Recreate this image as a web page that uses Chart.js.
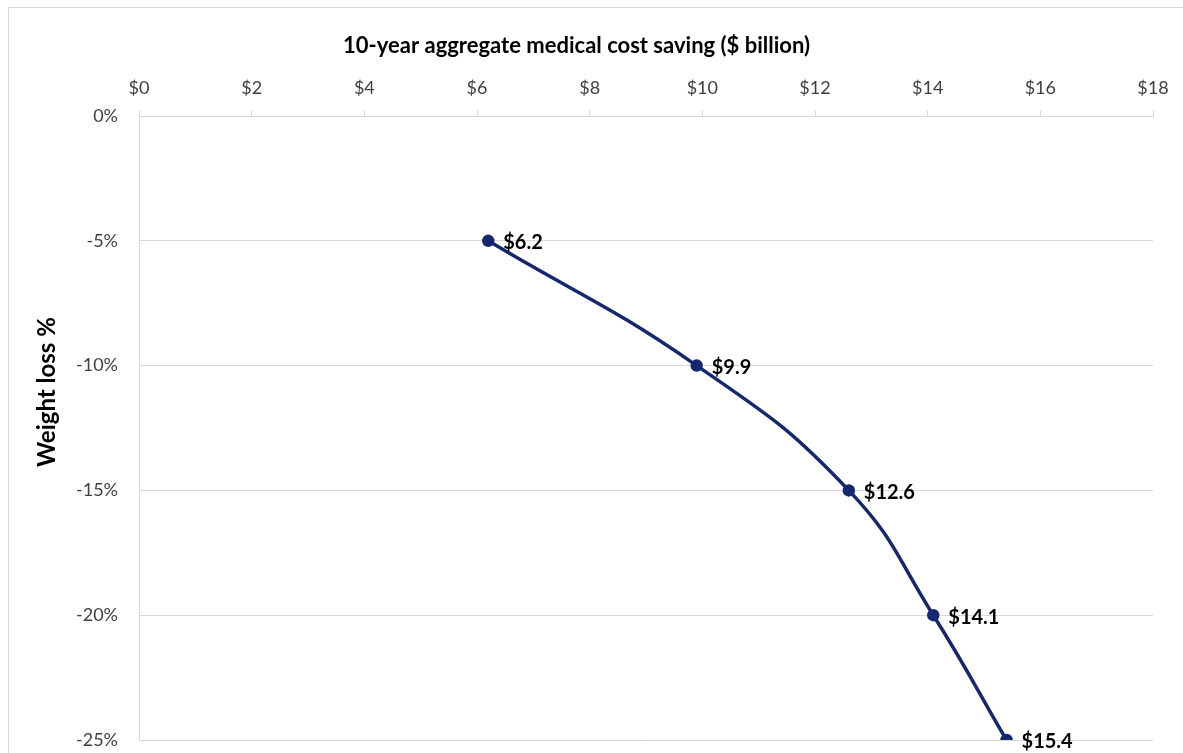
<!DOCTYPE html>
<html>
<head>
<meta charset="utf-8">
<script src="https://cdn.jsdelivr.net/npm/chart.js@4.4.1/dist/chart.umd.min.js"></script>
<style>
  html, body { margin: 0; padding: 0; background: #fff; overflow: hidden; }
  #frame { position: absolute; left: 8px; top: 7px; width: 1200px; height: 800px; border: 1px solid #d9d9d9; box-sizing: border-box; }
  #wrap { position: absolute; left: 0; top: 0; width: 1183px; height: 753px; overflow: hidden; }
  canvas { display: block; }
</style>
</head>
<body>
<div id="frame"></div>
<div id="wrap"><canvas id="c" width="1183" height="784" style="width:1183px;height:784px"></canvas></div>
<script>
const savings = [6.2, 9.9, 12.6, 14.1, 15.4];
const weightLoss = [-5, -10, -15, -20, -25];
const savingLabels = ["$6.2", "$9.9", "$12.6", "$14.1", "$15.4"];
const xTitle = "10-year aggregate medical cost saving ($ billion)";
const yTitle = "Weight loss %";

const FONT = "Lato, 'Open Sans', sans-serif";

const labelPlugin = {
  id: 'pointLabels',
  afterDatasetsDraw(chart) {
    const ctx = chart.ctx;
    const meta = chart.getDatasetMeta(0);
    ctx.save();
    ctx.font = "bold 20px " + FONT;
    ctx.fillStyle = "#000";
    ctx.textAlign = "left";
    ctx.textBaseline = "middle";
    meta.data.forEach((pt, i) => {
      ctx.fillText(savingLabels[i], pt.x + 15, pt.y + 2);
    });
    ctx.restore();
  }
};

const yTitlePlugin = {
  id: 'yTitle',
  afterDraw(chart) {
    const ctx = chart.ctx;
    ctx.save();
    ctx.font = "bold 24px " + FONT;
    ctx.fillStyle = "#000";
    ctx.textAlign = "center";
    ctx.textBaseline = "middle";
    ctx.translate(chart.chartArea.left - 92, chart.height / 2);
    ctx.rotate(-Math.PI / 2);
    ctx.fillText(yTitle, 0, 0);
    ctx.restore();
  }
};

new Chart(document.getElementById('c'), {
  type: 'line',
  data: {
    datasets: [{
      data: savings.map((v, i) => ({ x: v, y: weightLoss[i] })),
      borderColor: '#15286F',
      backgroundColor: '#15286F',
      borderWidth: 3.5,
      pointRadius: 4.5,
      pointHoverRadius: 4.5,
      tension: 0.45,
      fill: false
    }]
  },
  options: {
    responsive: false,
    animation: false,
    layout: { padding: { left: 0, top: 0, right: 30, bottom: 44 } },
    plugins: {
      legend: { display: false },
      tooltip: { enabled: false },
      title: { display: true, text: xTitle, color: '#000', font: { family: FONT, size: 22, weight: 'bold', lineHeight: 1.2 },
               padding: { top: 33, bottom: 0 } }
    },
    scales: {
      x: {
        type: 'linear',
        position: 'top',
        min: 0, max: 18,
        ticks: { stepSize: 2, padding: 11, color: '#404040', font: { family: FONT, size: 18 },
                 callback: v => '$' + v },
        grid: { drawOnChartArea: false, drawTicks: true, tickLength: 6, color: '#d9d9d9' },
        border: { display: true, color: '#d9d9d9' },
        afterFit(scale) { scale.height = 56.6; }
      },
      y: {
        type: 'linear',
        min: -25, max: 0,
        ticks: { stepSize: 5, padding: 21, color: '#404040', font: { family: FONT, size: 18 },
                 callback: v => v + '%' },
        grid: { drawTicks: false, color: '#d9d9d9' },
        border: { display: true, color: '#d9d9d9' },
        afterFit(scale) { scale.width = 139; }
      }
    }
  },
  plugins: [labelPlugin, yTitlePlugin]
});
</script>
</body>
</html>
